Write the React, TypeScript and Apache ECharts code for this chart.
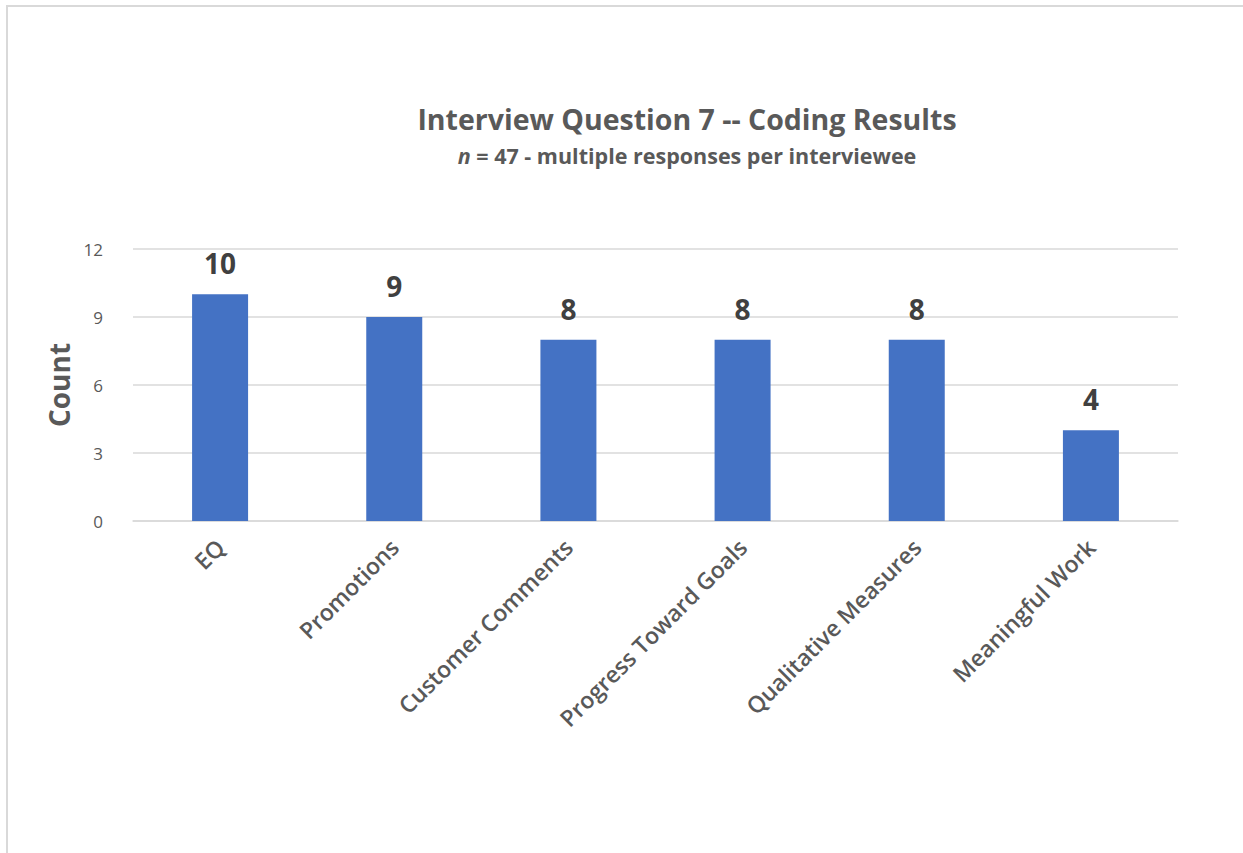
import React, { useEffect, useRef } from "react";
import * as echarts from "echarts";

const categories = ["EQ", "Promotions", "Customer Comments", "Progress Toward Goals", "Qualitative Measures", "Meaningful Work"];
const counts = [10, 9, 8, 8, 8, 4];
const yTicks = [0, 3, 6, 9, 12];

const FONT = "'Open Sans', 'Noto Sans', sans-serif";

export default function App() {
  const ref = useRef<HTMLDivElement>(null);
  useEffect(() => {
    if (!ref.current) return;
    const chart = echarts.init(ref.current, undefined, { renderer: "svg" });
    chart.setOption({
      animation: false,
      backgroundColor: "#ffffff",
      graphic: [
        {
          type: "rect",
          shape: { x: 7, y: 6, width: 1300, height: 900 },
          style: { fill: "none", stroke: "#d9d9d9", lineWidth: 2 },
          silent: true,
        },
      ],
      title: {
        text: "Interview Question 7 -- Coding Results",
        subtext: "{i|n} = 47 - multiple responses per interviewee",
        left: 682,
        textAlign: "center",
        top: 99,
        itemGap: 11,
        textStyle: { fontFamily: FONT, fontSize: 28.5, fontWeight: "bold", color: "#595959" },
        subtextStyle: {
          fontFamily: FONT,
          fontSize: 21.5,
          fontWeight: "bold",
          color: "#595959",
          rich: {
            i: { fontFamily: FONT, fontSize: 21.5, fontWeight: "bold", fontStyle: "italic", color: "#595959" },
          },
        },
      },
      grid: { left: 133, right: 65, top: 249, bottom: 332, containLabel: false },
      xAxis: {
        type: "category",
        data: categories,
        axisLine: { show: true, lineStyle: { color: "#d9d9d9", width: 1.5 } },
        axisTick: { show: false },
        axisLabel: {
          rotate: 45,
          interval: 0,
          margin: 22,
          fontFamily: FONT,
          fontSize: 23,
          fontWeight: 600,
          color: "#595959",
        },
      },
      yAxis: {
        type: "value",
        min: 0,
        max: yTicks[yTicks.length - 1],
        interval: 3,
        name: "Count",
        nameLocation: "middle",
        nameGap: 48,
        nameRotate: 90,
        nameTextStyle: { fontFamily: FONT, fontSize: 28, fontWeight: "bold", color: "#595959" },
        axisLine: { show: false },
        axisTick: { show: false },
        axisLabel: { fontFamily: FONT, fontSize: 17, color: "#595959", margin: 30 },
        splitLine: { lineStyle: { color: "#d9d9d9", width: 1.5 } },
      },
      series: [
        {
          type: "bar",
          data: counts,
          barWidth: 56,
          itemStyle: { color: "#4472c4" },
          label: {
            show: true,
            position: "top",
            distance: 17,
            fontFamily: FONT,
            fontSize: 28,
            fontWeight: "bold",
            color: "#404040",
          },
        },
      ],
    });
    return () => chart.dispose();
  }, []);
  return (
    <div
      ref={ref}
      style={{ position: "absolute", left: 0, top: 0, width: 1243, height: 853 }}
    />
  );
}
